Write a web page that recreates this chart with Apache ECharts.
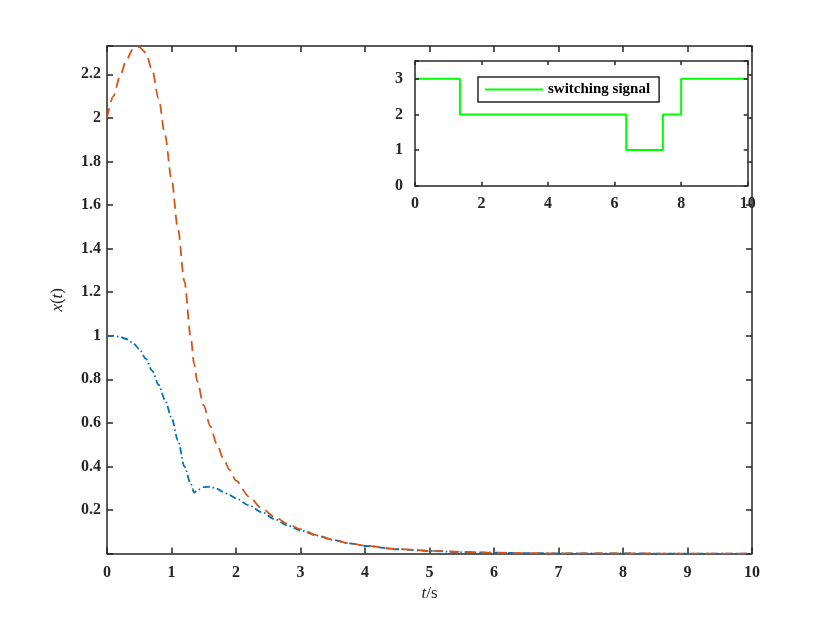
<!DOCTYPE html>
<html>
<head>
<meta charset="utf-8">
<script src="https://cdn.jsdelivr.net/npm/echarts@6/dist/echarts.min.js"></script>
<style>html,body{margin:0;padding:0;background:#fff;}#c{width:830px;height:623px;}</style>
</head>
<body>
<div id="c"></div>
<script>
// time samples (s)
const t = [0,0.1,0.2,0.3,0.4,0.5,0.6,0.7,0.8,0.9,1.0,1.1,1.2,1.3,1.35,1.4,1.5,1.6,1.7,1.8,1.9,2.0,2.2,2.4,2.6,2.8,3.0,3.25,3.5,3.75,4.0,4.5,5.0,5.5,6.0,6.5,7,8,9,10];
// state x1 (blue dash-dot)
const x1 = [1.0,0.999,0.995,0.985,0.968,0.94,0.895,0.84,0.775,0.705,0.625,0.52,0.40,0.32,0.28,0.292,0.305,0.307,0.298,0.283,0.268,0.253,0.222,0.19,0.158,0.129,0.106,0.083,0.063,0.047,0.035,0.02,0.012,0.007,0.004,0.002,0.001,0.0004,0.0002,0.0001];
// state x2 (orange dashed)
const x2 = [2.0,2.1,2.19,2.265,2.315,2.325,2.30,2.22,2.09,1.92,1.72,1.49,1.25,0.99,0.87,0.79,0.68,0.585,0.505,0.44,0.385,0.335,0.262,0.207,0.168,0.137,0.112,0.085,0.064,0.048,0.036,0.021,0.013,0.008,0.004,0.002,0.001,0.0005,0.0002,0.0001];
// switching signal (piecewise constant)
const swT = [0,1.35,6.35,7.45,8,10];
const swV = [3,2,1,2,3,3];
const legendName = 'switching signal';

const FONT = "'Liberation Serif','Times New Roman',serif";
const AX = '#262626';
const pair = (a,b) => a.map((v,i)=>[v,b[i]]);

const lineAx = {show:true, onZero:false, lineStyle:{color:AX, width:1.5}};
const tickIn = {show:true, inside:true, length:6, lineStyle:{color:AX, width:1.5}};
const lbl = (m, fmt) => ({show:true, margin:m, color:AX, fontFamily:FONT, fontWeight:'bold', fontSize:16, formatter:fmt});
const hideLbl = {show:false};
const rich = {
  i:{fontFamily:FONT, fontStyle:'italic', fontSize:17, color:AX},
  n:{fontFamily:FONT, fontSize:17, color:AX}
};

const chart = echarts.init(document.getElementById('c'), null, {renderer:'canvas'});
chart.setOption({
  backgroundColor:'#fff',
  animation:false,
  grid:[
    {left:107, right:78, top:46, bottom:69.4, containLabel:false},
    {left:415, right:82.3, top:61, bottom:437.3, show:true, backgroundColor:'#fff', borderWidth:0, z:10}
  ],
  legend:{
    data:[{name:legendName, icon:'rect'}], left:478, top:77, z:30,
    orient:'horizontal', backgroundColor:'#fff',
    borderColor:AX, borderWidth:1.5, borderRadius:0, padding:[5,9,5,7],
    itemWidth:58, itemHeight:2, itemGap:6,
    textStyle:{fontFamily:FONT, fontWeight:'bold', fontSize:15, color:'#000'}
  },
  xAxis:[
    {type:'value', gridIndex:0, min:0, max:10, interval:1, position:'bottom',
     axisLine:lineAx, axisTick:tickIn, splitLine:{show:false},
     axisLabel:lbl(11, v=>String(v)),
     name:'{i|t}{n|/s}', nameLocation:'middle', nameGap:31, nameTextStyle:{rich}},
    {type:'value', gridIndex:0, min:0, max:10, interval:1, position:'top',
     axisLine:lineAx, axisTick:tickIn, splitLine:{show:false}, axisLabel:hideLbl},
    {type:'value', gridIndex:1, min:0, max:10, interval:2, position:'bottom', z:20,
     axisLine:lineAx, axisTick:{...tickIn, length:4}, splitLine:{show:false},
     axisLabel:lbl(10, v=>String(v))},
    {type:'value', gridIndex:1, min:0, max:10, interval:2, position:'top', z:20,
     axisLine:lineAx, axisTick:{...tickIn, length:4}, splitLine:{show:false}, axisLabel:hideLbl}
  ],
  yAxis:[
    {type:'value', gridIndex:0, min:0, max:2.33, interval:0.2, position:'left',
     axisLine:lineAx, axisTick:tickIn, splitLine:{show:false},
     axisLabel:lbl(6, v=> (Math.abs(v)<1e-9 || v>2.25) ? '' : String(parseFloat(v.toFixed(1)))),
     name:'{i|x}{n|(}{i|t}{n|)}', nameLocation:'middle', nameGap:41, nameTextStyle:{rich}},
    {type:'value', gridIndex:0, min:0, max:2.33, interval:0.2, position:'right',
     axisLine:lineAx, axisTick:tickIn, splitLine:{show:false}, axisLabel:hideLbl},
    {type:'value', gridIndex:1, min:0, max:3.5, interval:1, position:'left', z:20,
     axisLine:lineAx, axisTick:{...tickIn, length:4}, splitLine:{show:false},
     axisLabel:lbl(12, v=> Number.isInteger(v) ? String(v) : '')},
    {type:'value', gridIndex:1, min:0, max:3.5, interval:1, position:'right', z:20,
     axisLine:lineAx, axisTick:{...tickIn, length:4}, splitLine:{show:false}, axisLabel:hideLbl}
  ],
  series:[
    {name:'x1', type:'line', xAxisIndex:0, yAxisIndex:0, data:pair(t,x1),
     symbol:'none', smooth:0.3, smoothMonotone:'x', z:3,
     lineStyle:{color:'#0072BD', width:1.8, type:[7,3,1.5,3]}},
    {name:'x2', type:'line', xAxisIndex:0, yAxisIndex:0, data:pair(t,x2),
     symbol:'none', smooth:0.3, smoothMonotone:'x', z:4,
     lineStyle:{color:'#D95319', width:1.8, type:[10,6]}},
    {name:legendName, type:'line', xAxisIndex:2, yAxisIndex:2, data:pair(swT,swV),
     step:'end', symbol:'none', z:15,
     lineStyle:{color:'#00FF00', width:2}, itemStyle:{color:'#00FF00'}}
  ]
});
</script>
</body>
</html>
